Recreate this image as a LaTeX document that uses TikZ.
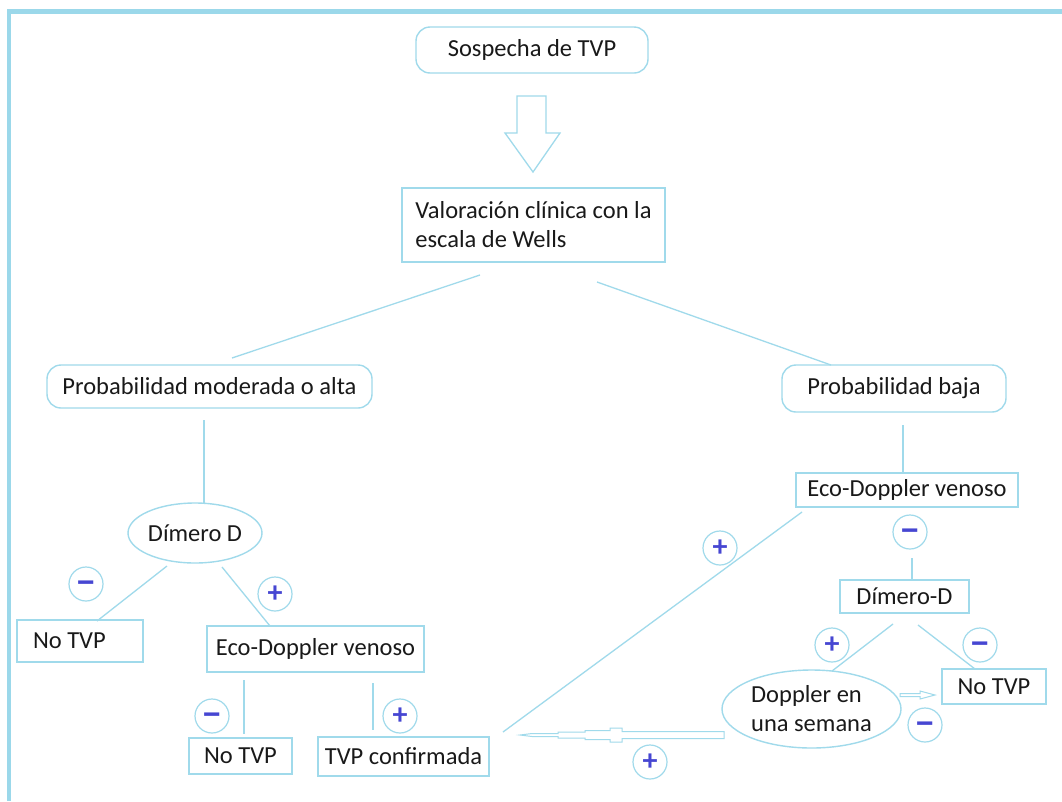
\documentclass[tikz,border=0pt]{standalone}
\usepackage{fontspec}
\setmainfont{Carlito}
\usetikzlibrary{shapes.geometric}
\definecolor{lb}{RGB}{160,218,235}
\definecolor{fr}{RGB}{155,216,234}
\definecolor{sg}{RGB}{70,70,210}
\definecolor{tx}{RGB}{25,25,25}
\newcommand{\mysignminus}{\vphantom{+}\smash{\raisebox{-2pt}{\scalebox{1.3}[1.25]{−}}}}
\begin{document}
\begin{tikzpicture}[x=1pt,y=-1pt,
  every node/.style={text=tx, font=\fontsize{24.5}{29}\selectfont},
  box/.style={draw=lb, line width=1.4pt, inner sep=0pt},
  rbox/.style={box, rounded corners=14pt},
  ebox/.style={box, ellipse},
  sign/.style={circle, draw=lb, line width=1.2pt, inner sep=0pt, minimum size=34pt, text=sg, font=\bfseries\fontsize{30}{30}\selectfont},
  conn/.style={draw=lb, line width=1.3pt},
  hollow/.style={draw=lb, line width=1.3pt, fill=white, line join=miter}]
\useasboundingbox (0,0) rectangle (1062,801);
\fill[white] (0,0) rectangle (1062,801);
% frame
\draw[fr, line width=4.8pt, line join=miter] (9,801) -- (9,11.5) -- (1062,11.5);

% nodes
\node[rbox, minimum width=232pt, minimum height=46pt] (sospecha) at (532,50) {Sospecha de TVP};
\node[box, minimum width=263pt, minimum height=74pt, align=left] (valoracion) at (533.5,225) {Valoración clínica con la\\escala de Wells};
\node[rbox, minimum width=325pt, minimum height=43pt] (alta) at (209.5,386.5) {Probabilidad moderada o alta};
\node[rbox, minimum width=224pt, minimum height=47pt] (baja) at (894,388.5) {Probabilidad baja};
\node[ebox, minimum width=134pt, minimum height=60pt] (dimA) at (195,533) {Dímero D};
\node[box, minimum height=42pt, text width=94pt, inner xsep=16pt, align=flush left] (notvpA) at (80,641) {No TVP};
\node[box, minimum width=217pt, minimum height=46pt] (ecoA) at (315.5,649) {Eco-Doppler venoso};
\node[box, minimum width=103pt, minimum height=36pt] (notvpB) at (240.5,756) {No TVP};
\node[box, minimum width=171pt, minimum height=39pt] (tvpc) at (403.5,756.5) {TVP confirmada};
\node[box, minimum width=222pt, minimum height=34pt] (ecoB) at (907,490) {Eco-Doppler venoso};
\node[box, minimum width=129pt, minimum height=33pt] (dimB) at (904.5,596.5) {Dímero-D};
\node[ebox, minimum width=179pt, minimum height=78pt, align=left] (dop) at (811.5,709) {Doppler en\\una semana};
\node[box, minimum width=104pt, minimum height=35pt] (notvpC) at (994,686.5) {No TVP};

% signs
\node[sign] (sA) at (86,584) {\mysignminus};
\node[sign] (sB) at (275,594) {+};
\node[sign] (sC) at (212,716) {\mysignminus};
\node[sign] (sD) at (400,716) {+};
\node[sign] (sE) at (720,548) {+};
\node[sign] (sF) at (910,532) {\mysignminus};
\node[sign] (sG) at (832,645) {+};
\node[sign] (sH) at (980,645) {\mysignminus};
\node[sign] (sI) at (925,725) {\mysignminus};
\node[sign] (sJ) at (650,762) {+};

% connector end points
\coordinate (c1a) at (480,275); \coordinate (c1b) at (232,358);
\coordinate (c2a) at (597,282); \coordinate (c2b) at (831,365);
\coordinate (c3a) at (204,420); \coordinate (c3b) at (204,504);
\coordinate (c4a) at (903,425); \coordinate (c4b) at (903,473);
\coordinate (c5a) at (167,566); \coordinate (c5b) at (97,621);
\coordinate (c6a) at (222,567); \coordinate (c6b) at (270,626);
\coordinate (c7a) at (244,680); \coordinate (c7b) at (244,734);
\coordinate (c8a) at (373,683); \coordinate (c8b) at (373,730);
\coordinate (c9a) at (802,512); \coordinate (c9b) at (503,732);
\coordinate (c10a) at (912,558); \coordinate (c10b) at (912,580);
\coordinate (c11a) at (893,624); \coordinate (c11b) at (832,671);
\coordinate (c12a) at (918,625); \coordinate (c12b) at (975,669);

\draw[conn] (c1a) -- (c1b);
\draw[conn] (c2a) -- (c2b);
\draw[conn] (c3a) -- (c3b);
\draw[conn] (c4a) -- (c4b);
\draw[conn] (c5a) -- (c5b);
\draw[conn] (c6a) -- (c6b);
\draw[conn] (c7a) -- (c7b);
\draw[conn] (c8a) -- (c8b);
\draw[conn] (c9a) -- (c9b);
\draw[conn] (c10a) -- (c10b);
\draw[conn] (c11a) -- (c11b);
\draw[conn] (c12a) -- (c12b);

% hollow arrows
\draw[hollow] (517,96) -- (546,96) -- (546,133) -- (560,133) -- (533,172) -- (505,133) -- (517,133) -- cycle;
\draw[hollow, line width=1pt] (724,731.5) -- (622,731.5) -- (622,728) -- (610,728) -- (610,730.5) -- (585,730.5) -- (585,732) -- (558,732) -- (558,733.5) -- (532,733.5) -- (520,735) -- (532,736.5) -- (558,736.5) -- (558,738) -- (585,738) -- (585,739.5) -- (610,739.5) -- (610,742) -- (622,742) -- (622,738.5) -- (724,738.5) -- cycle;
\draw[hollow, line width=1pt] (900,693.5) -- (920,693.5) -- (920,691) -- (935,695) -- (920,699) -- (920,696.5) -- (900,696.5) -- cycle;
\end{tikzpicture}
\end{document}
